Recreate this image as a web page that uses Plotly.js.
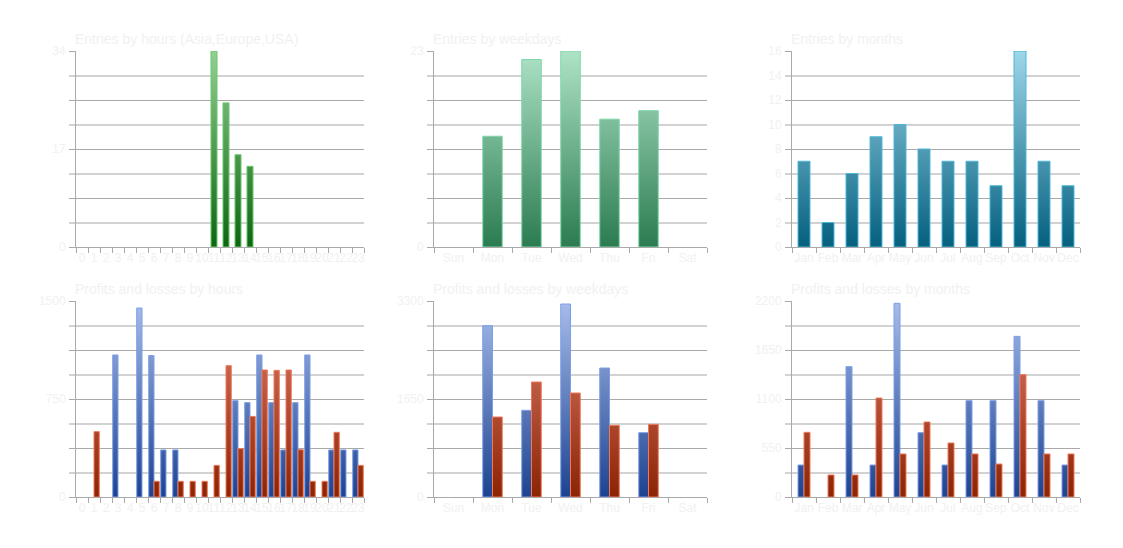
<!DOCTYPE html>
<html>
<head>
<meta charset="utf-8">
<script src="https://cdn.plot.ly/plotly-3.0.1.min.js"></script>
<style>
  html, body { margin: 0; padding: 0; background: #ffffff; }
  #chart { width: 1123px; height: 548px; }
</style>
</head>
<body>
<div id="chart"></div>
<script>
// ---------------- DATA ----------------
const hours = ['0','1','2','3','4','5','6','7','8','9','10','11','12','13','14','15','16','17','18','19','20','21','22','23'];
const weekdays = ['Sun','Mon','Tue','Wed','Thu','Fri','Sat'];
const months = ['Jan','Feb','Mar','Apr','May','Jun','Jul','Aug','Sep','Oct','Nov','Dec'];

const entriesByHour = [null,null,null,null,null,null,null,null,null,null,null,34,25,16,14,null,null,null,null,null,null,null,null,null];
const entriesByWeekday = [null,13,22,23,15,16,null];
const entriesByMonth = [7,2,6,9,10,8,7,7,5,16,7,5];

const profitsByHour = [null,null,null,1087,null,1446,1082,360,360,null,null,null,null,737,722,1087,722,360,722,1087,null,360,360,360];
const lossesByHour  = [null,500,null,null,null,null,120,null,120,120,120,242,1005,370,617,972,969,972,362,120,120,495,null,242];

const profitsByWeekday = [null,2884,1459,3249,2172,1083,null];
const lossesByWeekday  = [null,1347,1936,1751,1207,1223,null];

const profitsByMonth = [359,null,1463,359,2174,722,359,1081,1081,1803,1081,359];
const lossesByMonth  = [726,247,247,1111,483,842,606,483,370,1373,483,483];

const entriesHourTicks = [0,17,34];
const entriesWeekTicks = [0,23];
const entriesMonthTicks = [0,2,4,6,8,10,12,14,16];
const plHourTicks = [0,750,1500];
const plWeekTicks = [0,1650,3300];
const plMonthTicks = [0,550,1100,1650,2200];

const titles = [
  'Entries by hours (Asia,Europe,USA)', 'Entries by weekdays', 'Entries by months',
  'Profits and losses by hours', 'Profits and losses by weekdays', 'Profits and losses by months'
];

// ---------------- STYLE ----------------
const W = 1123, H = 548;
const colsPx = [[76,364],[434,707],[792,1080]];
const rowsPx = [[51,247],[301,497]];
const textColor = '#f1f1f1';
const fontFam = '"Liberation Sans", Arial, sans-serif';
const darkGrid = '#a9a9a9', lightGrid = '#d2d2d2';

const grads = {
  green: ['#93d093', '#0b660f', '#6cc66c'],
  mint:  ['#aee3c7', '#2b7b50', '#7fd6a8'],
  teal:  ['#9fd6e9', '#03607e', '#4cb8d8'],
  blue:  ['#a7bdeb', '#1d428f', '#7a9ee8'],
  red:   ['#e48270', '#8a2405', '#f07858']
};

const panels = [
  {cats: hours, ticks: entriesHourTicks, series: [{y: entriesByHour, g: 'green'}]},
  {cats: weekdays, ticks: entriesWeekTicks, series: [{y: entriesByWeekday, g: 'mint'}]},
  {cats: months, ticks: entriesMonthTicks, series: [{y: entriesByMonth, g: 'teal'}]},
  {cats: hours, ticks: plHourTicks, series: [{y: profitsByHour, g: 'blue', name: 'Profits'}, {y: lossesByHour, g: 'red', name: 'Losses'}], narrow: true},
  {cats: weekdays, ticks: plWeekTicks, series: [{y: profitsByWeekday, g: 'blue', name: 'Profits'}, {y: lossesByWeekday, g: 'red', name: 'Losses'}]},
  {cats: months, ticks: plMonthTicks, series: [{y: profitsByMonth, g: 'blue', name: 'Profits'}, {y: lossesByMonth, g: 'red', name: 'Losses'}]}
];

const traces = [];
const traceGrad = [];
const layout = {
  width: W, height: H,
  margin: {l: 0, r: 0, t: 0, b: 0},
  paper_bgcolor: '#ffffff', plot_bgcolor: 'rgba(0,0,0,0)',
  showlegend: false,
  barmode: 'group',
  bargap: 0.5,
  bargroupgap: 0,
  font: {family: fontFam, color: textColor, size: 12},
  annotations: []
};

panels.forEach(function(p, i) {
  const n = i + 1;
  const col = colsPx[i % 3], row = rowsPx[Math.floor(i / 3)];
  const xd = [col[0] / W, col[1] / W];
  const yd = [1 - row[1] / H, 1 - row[0] / H];
  const ymax = p.ticks[p.ticks.length - 1];
  const xs = 'x' + (n === 1 ? '' : n), ys = 'y' + (n === 1 ? '' : n);
  const lab = 'y' + (n + 6);

  layout['xaxis' + (n === 1 ? '' : n)] = {
    domain: xd, anchor: ys, type: 'category',
    categoryorder: 'array', categoryarray: p.cats,
    range: [-0.5, p.cats.length - 0.5],
    tickmode: 'linear', tick0: 0, dtick: 1, tickson: 'boundaries',
    ticks: 'outside', ticklen: 5, tickcolor: darkGrid, tickwidth: 1,
    showline: true, linecolor: darkGrid, linewidth: 1,
    showgrid: false, zeroline: false, tickangle: 0,
    tickfont: {family: fontFam, size: 12, color: textColor},
    fixedrange: true
  };
  layout['yaxis' + (n === 1 ? '' : n)] = {
    domain: yd, anchor: xs, range: [0, ymax],
    tickmode: 'linear', tick0: 0, dtick: ymax / 4,
    showticklabels: false,
    ticks: 'outside', ticklen: 6, tickcolor: darkGrid, tickwidth: 1,
    showgrid: true, gridcolor: darkGrid, gridwidth: 1,
    minor: {dtick: ymax / 8, tick0: 0, ticks: 'outside', ticklen: 6, tickcolor: lightGrid, tickwidth: 2,
            showgrid: true, gridcolor: lightGrid, gridwidth: 2},
    showline: true, linecolor: darkGrid, linewidth: 1,
    zeroline: false, fixedrange: true
  };
  layout['yaxis' + (n + 6)] = {
    overlaying: ys, anchor: xs, side: 'left', range: [0, ymax],
    tickmode: 'array', tickvals: p.ticks, ticktext: p.ticks.map(String),
    ticks: 'outside', ticklen: 7, tickcolor: 'rgba(0,0,0,0)',
    showgrid: false, showline: false, zeroline: false,
    tickfont: {family: fontFam, size: 12, color: textColor},
    fixedrange: true
  };
  traces.push({type: 'scatter', x: [], y: [], xaxis: xs, yaxis: lab, hoverinfo: 'skip', showlegend: false});
  traceGrad.push(null);

  p.series.forEach(function(s, k) {
    const g = grads[s.g];
    const t = {
      type: 'bar', x: p.cats, y: s.y, xaxis: xs, yaxis: ys, name: s.name || titles[i],
      marker: {color: g[1], line: {color: g[2], width: 1}},
      hoverinfo: 'skip'
    };
    if (p.narrow) {
      t.width = 0.44;
      t.offset = k === 0 ? -0.44 : 0;
    }
    traces.push(t);
    traceGrad.push(s.g);
  });

  layout.annotations.push({
    xref: 'paper', yref: 'paper', x: (col[0] - 3) / W, y: 1 - (row[0] - 12) / H,
    xanchor: 'left', yanchor: 'middle', showarrow: false, text: titles[i],
    font: {family: fontFam, size: 14, color: textColor}
  });
});

const gd = document.getElementById('chart');
Plotly.newPlot(gd, traces, layout, {staticPlot: true, displayModeBar: false}).then(function() {
  const ns = 'http://www.w3.org/2000/svg';
  const svg = gd.querySelector('svg.main-svg');
  let defs = svg.querySelector('defs');
  if (!defs) { defs = document.createElementNS(ns, 'defs'); svg.insertBefore(defs, svg.firstChild); }
  const fl = gd._fullLayout;
  gd.querySelectorAll('.barlayer .trace').forEach(function(el) {
    const cd = el.__data__;
    if (!cd || !cd[0] || !cd[0].trace) return;
    const tr = cd[0].trace;
    const gname = traceGrad[tr.index];
    if (!gname) return;
    const g = grads[gname];
    const yaName = 'yaxis' + tr.yaxis.slice(1);
    const h = fl[yaName]._length;
    const id = 'bargrad' + tr.index;
    const lg = document.createElementNS(ns, 'linearGradient');
    lg.setAttribute('id', id);
    lg.setAttribute('gradientUnits', 'userSpaceOnUse');
    lg.setAttribute('x1', '0'); lg.setAttribute('x2', '0');
    lg.setAttribute('y1', '0'); lg.setAttribute('y2', String(h));
    [[0, g[0]], [1, g[1]]].forEach(function(st) {
      const s = document.createElementNS(ns, 'stop');
      s.setAttribute('offset', String(st[0]));
      s.setAttribute('stop-color', st[1]);
      lg.appendChild(s);
    });
    defs.appendChild(lg);
    el.querySelectorAll('path').forEach(function(pth) {
      pth.style.fill = 'url(#' + id + ')';
    });
  });
});
</script>
</body>
</html>
